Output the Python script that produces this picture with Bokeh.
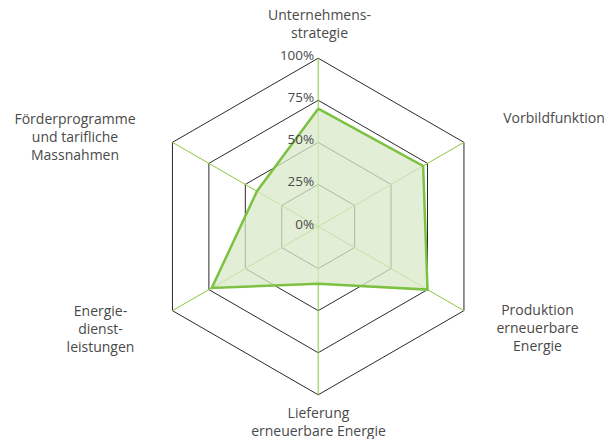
import numpy as np
from bokeh.plotting import figure
from bokeh.models import Range1d
from bokeh.core.properties import value
from bokeh.embed import file_html
from bokeh.resources import INLINE

# ---- data ----
categories = [
    "Unternehmens-\nstrategie",
    "Vorbildfunktion",
    "Produktion\nerneuerbare\nEnergie",
    "Lieferung\nerneuerbare Energie",
    "Energie-\ndienst-\nleistungen",
    "Förderprogramme\nund tarifliche\nMassnahmen",
]
values = [70, 72, 75, 34, 73, 42]
ring_levels = [25, 50, 75, 100]
tick_values = [0, 25, 50, 75, 100]
tick_labels = ["0%", "25%", "50%", "75%", "100%"]

# ---- geometry ----
W, H = 609, 439
R_PX = 168.3
cx_px, cy_px = 317.7, 226.0
x0 = -cx_px / R_PX
x1 = (W - cx_px) / R_PX
y1 = cy_px / R_PX
y0 = -(H - cy_px) / R_PX

n = len(categories)
angles = np.pi / 2 - np.arange(n) * 2 * np.pi / n

p = figure(width=W, height=H, output_backend="svg", toolbar_location=None,
           x_range=Range1d(x0, x1), y_range=Range1d(y0, y1),
           min_border=0, outline_line_color=None, background_fill_color="white",
           border_fill_color="white")
p.axis.visible = False
p.grid.visible = False

# rings
for lv in ring_levels:
    r = lv / 100
    xs = list(r * np.cos(angles)) + [r * np.cos(angles[0])]
    ys = list(r * np.sin(angles)) + [r * np.sin(angles[0])]
    p.line(xs, ys, line_color="#2a2a2a", line_width=1)

# spokes
for a in angles:
    p.line([0, np.cos(a)], [0, np.sin(a)], line_color="#8cc63f", line_width=1)

# data polygon
vr = np.array(values) / 100
dx = vr * np.cos(angles)
dy = vr * np.sin(angles)
p.patch(list(dx), list(dy), fill_color="#d8eac8", fill_alpha=0.75, line_color=None)
p.line(list(dx) + [dx[0]], list(dy) + [dy[0]], line_color="#7dc142", line_width=2.5,
       line_join="miter")

FONT = "Open Sans"

# tick labels
tr = np.array(tick_values) / 100
p.text(x=[0] * len(tr), y=list(tr), text=tick_labels, text_align="right",
       text_baseline="middle", x_offset=-4, y_offset=-3,
       text_font=value(FONT), text_font_size="13.5px", text_color="#4a4a4a")

# category label block centres (x) and first-line centre (y), in picture pixels
first_line_px = [(319, 13.5), (553.5, 116.5), (537, 308.5), (318, 411.5), (100, 309.5), (74.5, 117.5)]
LINE_PX = 18
tx, ty, tt = [], [], []
for (cxp, cyp), lab in zip(first_line_px, categories):
    for i, line in enumerate(lab.split("\n")):
        tx.append((cxp - cx_px) / R_PX)
        ty.append(-(cyp + i * LINE_PX - cy_px) / R_PX)
        tt.append(line)
p.text(x=tx, y=ty, text=tt, text_align="center", text_baseline="middle",
       text_font=value(FONT), text_font_size="14px", text_color="#4a4a4a")

open("out.html", "w").write(file_html(p, INLINE))
